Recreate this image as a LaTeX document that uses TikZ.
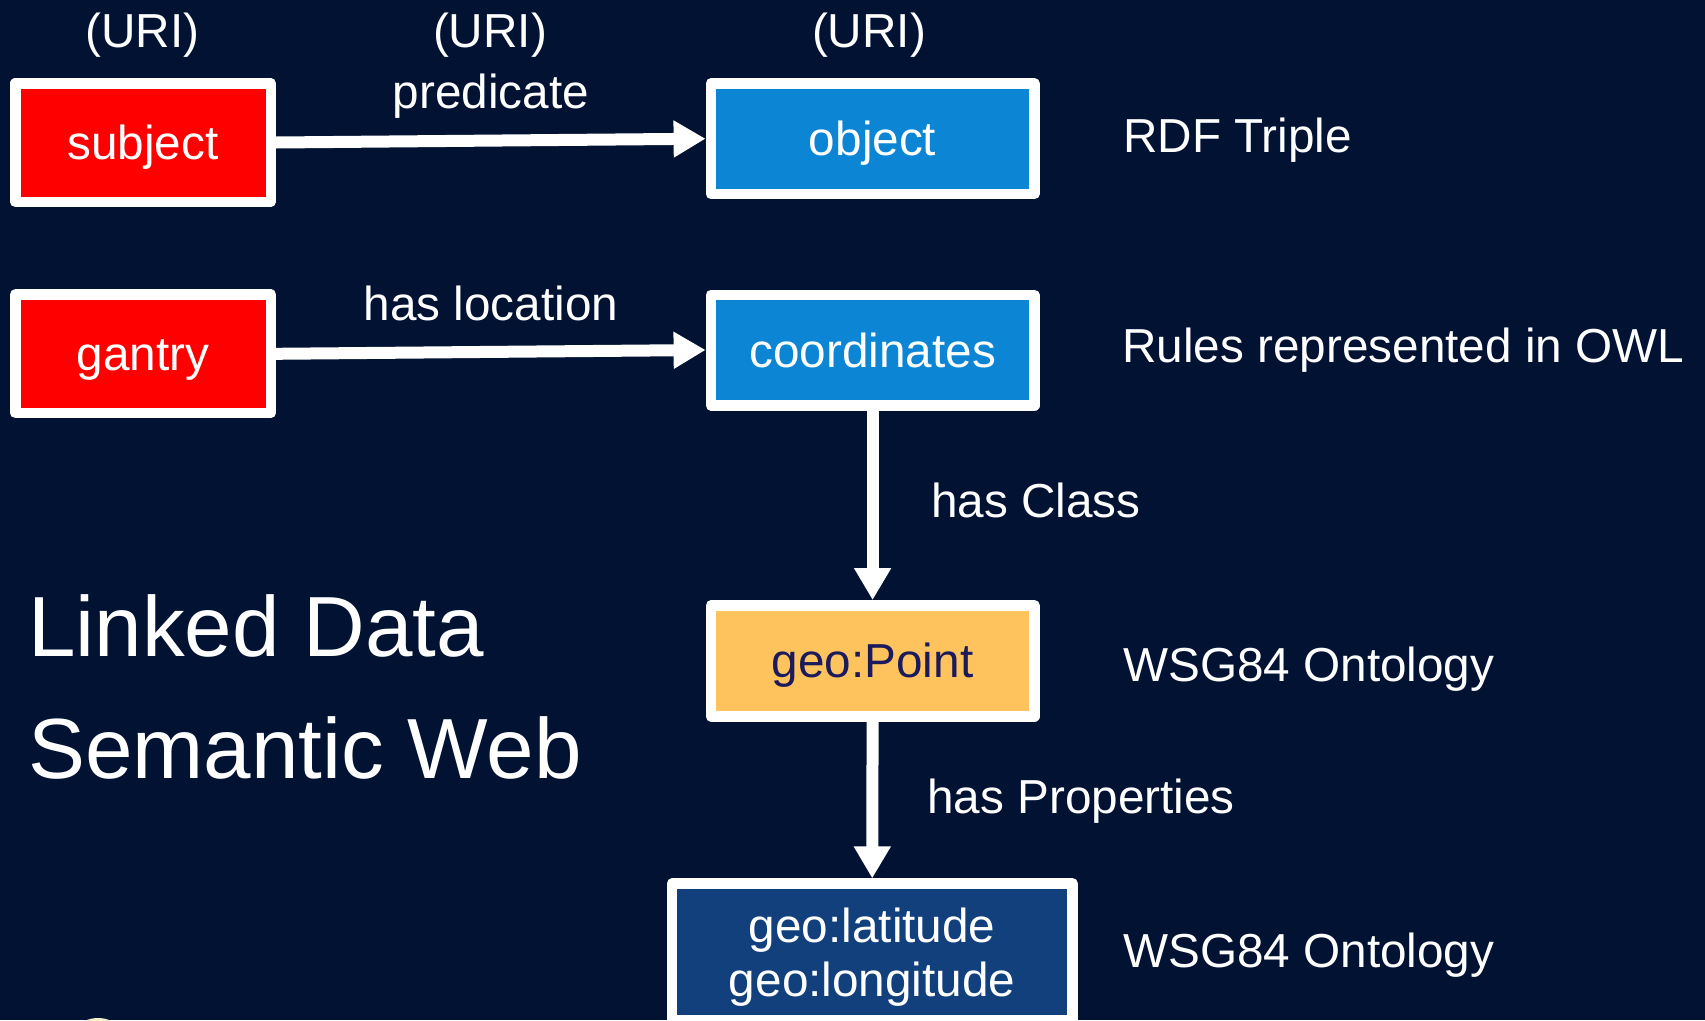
\documentclass[tikz,border=0pt]{standalone}
\usepackage{fontspec}
\setmainfont{Liberation Sans}
\usetikzlibrary{arrows.meta}
\definecolor{bgnavy}{HTML}{011233}
\definecolor{rdfred}{HTML}{FF0000}
\definecolor{rdfblue}{HTML}{0C85D5}
\definecolor{classorange}{HTML}{FFC35E}
\definecolor{classtext}{HTML}{1A1A5C}
\definecolor{propblue}{HTML}{12407D}
\definecolor{logotint}{HTML}{F2F0C8}
\begin{document}
\begin{tikzpicture}[x=1pt,y=-1pt,
  box/.style={draw=white, line width=10.5pt, line join=round, inner sep=0pt,
    text=white, font=\fontsize{47.7}{56}\selectfont, text height=34.2pt, text depth=0pt},
  redbox/.style={box, fill=rdfred, minimum width=255.5pt, minimum height=118.5pt},
  bluebox/.style={box, fill=rdfblue, minimum width=323.5pt, minimum height=110.5pt},
  classbox/.style={box, fill=classorange, text=classtext, minimum width=323.5pt, minimum height=111pt},
  propbox/.style={box, fill=propblue, minimum width=400.5pt, minimum height=136.2pt},
  link/.style={draw=white, line width=12pt, -{Triangle[width=35pt,length=32pt]}},
  lbl/.style={text=white, font=\fontsize{47.7}{56}\selectfont, inner sep=0pt},
  title/.style={text=white, font=\fontsize{85.4}{100}\selectfont, inner sep=0pt}]

% page and background
\useasboundingbox (0,0) rectangle (1705,1020);
\fill[bgnavy] (0,0) rectangle (1705,1020);
\fill[logotint] (98,1050) ellipse [x radius=32, y radius=32];

% triple and instance nodes
\node[redbox]  (subject) at (143,142.5) {subject};
\node[bluebox] (object)  at (872.6,138.7) {object};
\node[redbox]  (gantry)  at (143,353.8) {gantry};
\node[bluebox] (coords)  at (872.6,350) {coordinates};
\node[classbox] (point)  at (872.6,660.8) {geo:Point};
\node[propbox] (latlon)  at (872.2,951.7) {};
\node[lbl, anchor=base] (latname) at (872.2,942) {geo:latitude};
\node[lbl, anchor=base] (lonname) at (872.2,996) {geo:longitude};

% connectors
\draw[link] (subject.east) -- (object.west);
\draw[link] (gantry.east) -- (coords.west);
\draw[link] (coords.south) -- (point.north);
\draw[link] (point.south) -- (latlon.north);

% labels above the triple
\node[lbl, anchor=base] (uri1) at (142.5,47) {(URI)};
\node[lbl, anchor=base] (uri2) at (490,47) {(URI)};
\node[lbl, anchor=base] (uri3) at (869,47) {(URI)};
\node[lbl, anchor=base] (pred) at (491,108) {predicate};
\node[lbl, anchor=base] (hasloc) at (491,320) {has location};
\node[lbl, anchor=base west] (hasclass) at (931,517) {has Class};
\node[lbl, anchor=base west] (hasprops) at (927,813) {has Properties};

% descriptions on the right
\node[lbl, anchor=base west] (d1) at (1123,152) {RDF Triple};
\node[lbl, anchor=base west] (d2) at (1122,362) {Rules represented in OWL};
\node[lbl, anchor=base west] (d3) at (1123,681) {WSG84 Ontology};
\node[lbl, anchor=base west] (d4) at (1123,967) {WSG84 Ontology};

% headline
\node[title, anchor=base west] (t1) at (28,656) {Linked Data};
\node[title, anchor=base west] (t2) at (28,778) {Semantic Web};
\end{tikzpicture}
\end{document}
